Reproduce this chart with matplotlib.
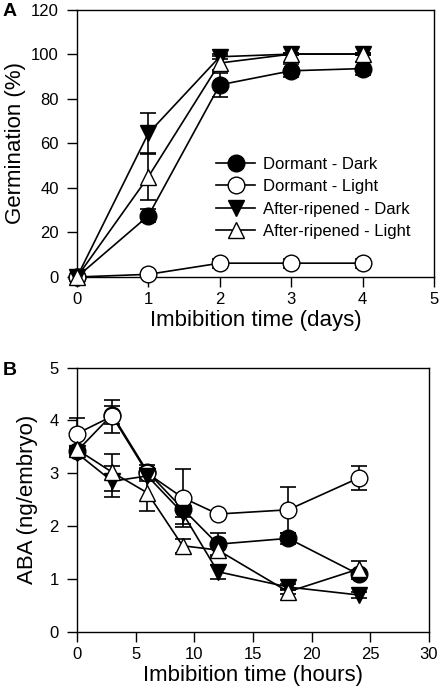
import matplotlib
matplotlib.use("Agg")
import matplotlib.pyplot as plt

plt.rcParams['font.family'] = ['Liberation Sans', 'DejaVu Sans']

# ---- Panel A data ----
days = [0, 1, 2, 3, 4]
dorm_dark = [0, 27.5, 86.2, 92.5, 93.5]
dorm_dark_err = [0, 3, 5.5, 3, 3]
dorm_light = [0, 1.2, 6.2, 6.2, 6.2]
dorm_light_err = [0, 1, 2, 2, 2]
ar_dark = [0, 64.5, 98.8, 100, 100]
ar_dark_err = [0, 9.2, 1.2, 0.5, 0.5]
ar_light = [0, 45, 96, 100, 100]
ar_light_err = [0, 10.5, 3, 0.5, 0.5]

# ---- Panel B data ----
hours = [0, 3, 6, 9, 12, 18, 24]
aba_dorm_dark = [3.42, 4.11, 3.03, 2.33, 1.66, 1.77, 1.09]
aba_dorm_dark_err = [0.08, 0.17, 0.12, 0.15, 0.22, 0.1, 0.08]
aba_dorm_light = [3.75, 4.08, 3.0, 2.54, 2.23, 2.31, 2.91]
aba_dorm_light_err = [0.3, 0.31, 0.1, 0.55, 0.05, 0.43, 0.23]
aba_ar_dark = [3.38, 2.85, 2.95, 2.25, 1.14, 0.85, 0.70]
aba_ar_dark_err = [0.08, 0.29, 0.1, 0.2, 0.13, 0.06, 0.05]
aba_ar_light = [3.45, 3.02, 2.63, 1.63, 1.55, 0.76, 1.19]
aba_ar_light_err = [0.05, 0.35, 0.35, 0.13, 0.1, 0.05, 0.15]

labels = ['Dormant - Dark', 'Dormant - Light', 'After-ripened - Dark', 'After-ripened - Light']
markers = ['o', 'o', 'v', '^']
faces = ['black', 'white', 'black', 'white']

fig = plt.figure(figsize=(4.42, 6.90), dpi=100)
axA = fig.add_axes([77/442, 1 - 277/690, 357/442, (277 - 9.5)/690])
axB = fig.add_axes([77/442, 1 - 632/690, 352/442, (632 - 367.5)/690])

def draw(ax, x, series):
    handles = []
    for (y, e), m, fc, lab in zip(series, markers, faces, labels):
        ax.errorbar(x, y, yerr=e, fmt='none', ecolor='black', elinewidth=1.2,
                    capsize=6, capthick=1.2, zorder=2, clip_on=False)
        h, = ax.plot(x, y, color='black', lw=1.2, marker=m, markersize=12,
                     markerfacecolor=fc, markeredgecolor='black', markeredgewidth=1.0,
                     label=lab, zorder=3, clip_on=False)
        handles.append(h)
    return handles

hA = draw(axA, days, [(dorm_dark, dorm_dark_err), (dorm_light, dorm_light_err),
                      (ar_dark, ar_dark_err), (ar_light, ar_light_err)])
draw(axB, hours, [(aba_dorm_dark, aba_dorm_dark_err), (aba_dorm_light, aba_dorm_light_err),
                  (aba_ar_dark, aba_ar_dark_err), (aba_ar_light, aba_ar_light_err)])

for ax in (axA, axB):
    for s in ax.spines.values():
        s.set_linewidth(1.0)
    ax.tick_params(direction='out', length=7, width=1.0, labelsize=12,
                   top=False, right=False)
    ax.tick_params(axis='y', pad=6)
    ax.tick_params(axis='x', pad=4)

axA.set_xlim(0, 5)
axA.set_ylim(0, 120)
axA.set_xticks(range(0, 6))
axA.set_yticks(range(0, 121, 20))
axA.set_xlabel('Imbibition time (days)', fontsize=16, labelpad=2)
axA.set_ylabel('Germination (%)', fontsize=16, labelpad=4)

axB.set_xlim(0, 30)
axB.set_ylim(0, 5)
axB.set_xticks(range(0, 31, 5))
axB.set_yticks(range(0, 6))
axB.set_xlabel('Imbibition time (hours)', fontsize=16, labelpad=2)
axB.set_ylabel('ABA (ng/embryo)', fontsize=16, labelpad=8)

leg = axA.legend(handles=hA, loc='upper left', bbox_to_anchor=(0.372, 0.475),
                 frameon=False, fontsize=12, handlelength=2.3, handletextpad=0.5,
                 labelspacing=0.45, borderaxespad=0)

fig.text(10/442, 1 - 12/690, 'A', fontsize=14, fontweight='bold', ha='center', va='center')
fig.text(10/442, 1 - 370/690, 'B', fontsize=14, fontweight='bold', ha='center', va='center')

fig.savefig('out.png', dpi=100)
